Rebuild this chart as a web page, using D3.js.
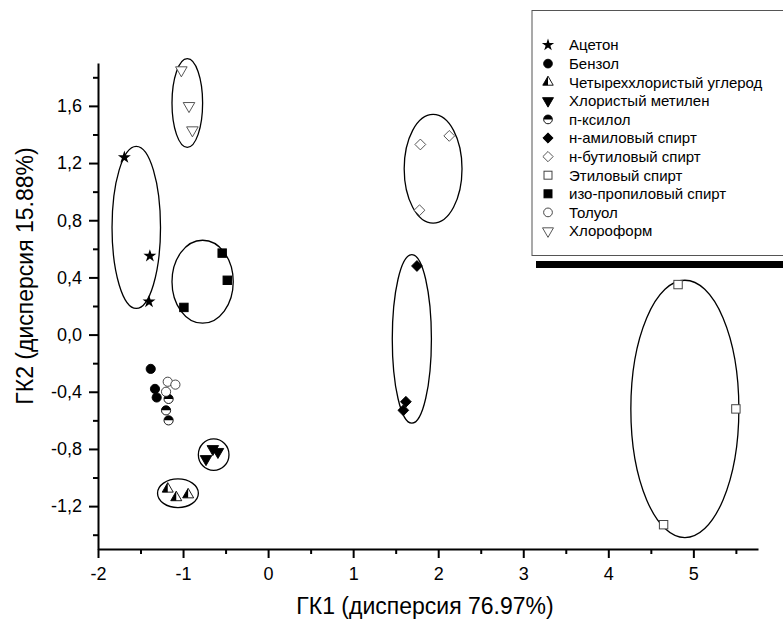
<!DOCTYPE html>
<html>
<head>
<meta charset="utf-8">
<script src="https://cdn.jsdelivr.net/npm/d3@7"></script>
<style>
  body { margin: 0; background: #fff; }
  svg { font-family: "Liberation Sans", Arial, sans-serif; }
</style>
</head>
<body>
<div id="chart"></div>
<script>
// series names as in the legend
const names = ["Ацетон", "Бензол", "Четыреххлористый углерод", "Хлористый метилен", "п-ксилол",
    "н-амиловый спирт", "н-бутиловый спирт", "Этиловый спирт", "изо-пропиловый спирт", "Толуол", "Хлороформ"]
const markers = ["star", "circle", "halfTri", "triDown", "halfCircle",
    "diamond", "diamondOpen", "squareOpen", "square", "circleOpen", "triDownOpen"]

// PC1 / PC2 scores
const acetoneX = [-1.69, -1.39, -1.40], acetoneY = [1.24, 0.55, 0.23]
const benzeneX = [-1.38, -1.33, -1.31], benzeneY = [-0.24, -0.38, -0.44]
const ccl4X = [-1.18, -1.08, -0.94], ccl4Y = [-1.08, -1.14, -1.12]
const methyleneX = [-0.65, -0.59, -0.73], methyleneY = [-0.80, -0.82, -0.87]
const xyleneX = [-1.17, -1.20, -1.17], xyleneY = [-0.45, -0.53, -0.60]
const amylX = [1.75, 1.62, 1.59], amylY = [0.48, -0.47, -0.53]
const butylX = [1.79, 2.13, 1.78], butylY = [1.33, 1.39, 0.87]
const ethylX = [4.82, 5.50, 4.65], ethylY = [0.35, -0.52, -1.33]
const isopropylX = [-0.54, -0.48, -0.99], isopropylY = [0.57, 0.38, 0.19]
const tolueneX = [-1.18, -1.09, -1.20], tolueneY = [-0.33, -0.35, -0.40]
const chloroformX = [-1.02, -0.93, -0.89], chloroformY = [1.85, 1.60, 1.43]

const seriesX = [acetoneX, benzeneX, ccl4X, methyleneX, xyleneX, amylX, butylX, ethylX, isopropylX, tolueneX, chloroformX]
const seriesY = [acetoneY, benzeneY, ccl4Y, methyleneY, xyleneY, amylY, butylY, ethylY, isopropylY, tolueneY, chloroformY]

// cluster ellipses: centre and radii in data units
const ellipseCx = [-1.55, -0.95, -0.77, -0.64, -1.06, 1.94, 1.69, 4.90]
const ellipseCy = [0.75, 1.62, 0.37, -0.84, -1.11, 1.16, -0.03, -0.52]
const ellipseRx = [0.285, 0.18, 0.36, 0.18, 0.24, 0.34, 0.23, 0.635]
const ellipseRy = [0.567, 0.31, 0.29, 0.11, 0.10, 0.38, 0.59, 0.90]

const xTicks = [-2, -1, 0, 1, 2, 3, 4, 5]
const xMinor = [-1.5, -0.5, 0.5, 1.5, 2.5, 3.5, 4.5, 5.5]
const yTicks = [-1.2, -0.8, -0.4, 0, 0.4, 0.8, 1.2, 1.6]
const yMinor = [-1.4, -1.0, -0.6, -0.2, 0.2, 0.6, 1.0, 1.4, 1.8]

const xTitle = "ГК1 (дисперсия 76.97%)"
const yTitle = "ГК2 (дисперсия 15.88%)"

const width = 783, height = 623
const margin = { top: 63, right: 25, bottom: 74, left: 98 }

const x = d3.scaleLinear().domain([-2, 5.76]).range([margin.left, width - margin.right])
const y = d3.scaleLinear().domain([-1.5, 1.9]).range([height - margin.bottom, margin.top])

const fmtY = v => d3.format(".1f")(v).replace(".", ",").replace("−", "-")
const fmtX = v => d3.format("d")(v).replace("−", "-")

const svg = d3.select("#chart").append("svg")
    .attr("width", width)
    .attr("height", height)

function marker(g, type, s) {
    const r = 4.6 * s
    if (type == "star") {
        g.append("path").attr("d", d3.symbol(d3.symbolStar, 52 * s * s)()).attr("fill", "#000")
    } else if (type == "circle" || type == "circleOpen") {
        g.append("circle").attr("r", r)
            .attr("fill", type == "circle" ? "#000" : "#fff")
            .attr("stroke", type == "circle" ? "#000" : "#333").attr("stroke-width", 0.9)
    } else if (type == "halfCircle") {
        g.append("circle").attr("r", r).attr("fill", "#fff").attr("stroke", "#000").attr("stroke-width", 0.9)
        g.append("path").attr("d", `M${-r},0 A${r},${r} 0 0 1 ${r},0 Z`).attr("fill", "#000")
    } else if (type == "square" || type == "squareOpen") {
        const a = 8.4 * s
        g.append("rect").attr("x", -a / 2).attr("y", -a / 2).attr("width", a).attr("height", a)
            .attr("fill", type == "square" ? "#000" : "#fff")
            .attr("stroke", type == "square" ? "#000" : "#444").attr("stroke-width", 1)
    } else if (type == "diamond" || type == "diamondOpen") {
        const a = 5.4 * s
        g.append("path").attr("d", `M0,${-a} L${a},0 L0,${a} L${-a},0 Z`)
            .attr("fill", type == "diamond" ? "#000" : "#fff")
            .attr("stroke", type == "diamond" ? "#000" : "#444").attr("stroke-width", 0.9)
    } else if (type == "triDown" || type == "triDownOpen") {
        g.append("path").attr("d", d3.symbol(d3.symbolTriangle, 58 * s * s)())
            .attr("transform", "rotate(180)")
            .attr("fill", type == "triDown" ? "#000" : "#fff")
            .attr("stroke", type == "triDown" ? "#000" : "#444").attr("stroke-width", 0.9)
    } else if (type == "halfTri") {
        const side = 11 * s, h = side * Math.sqrt(3) / 2
        const top = -h * 2 / 3, bot = h / 3
        g.append("path").attr("d", `M0,${top} L${side / 2},${bot} L${-side / 2},${bot} Z`)
            .attr("fill", "#fff").attr("stroke", "#000").attr("stroke-width", 0.9)
        g.append("path").attr("d", `M0,${top} L0,${bot} L${-side / 2},${bot} Z`).attr("fill", "#000")
    }
}

// axes
const xAxis = g => g
    .attr("transform", `translate(0,${y.range()[0]})`)
    .call(d3.axisBottom(x).tickValues(xTicks).tickFormat(fmtX).tickSize(9).tickPadding(9).tickSizeOuter(0))
    .call(g => g.select(".domain").attr("stroke-width", 2))
    .call(g => g.selectAll(".tick line").attr("stroke-width", 2))
    .call(g => g.selectAll("text").attr("font-size", 18).attr("fill", "#000"))

const xMinorAxis = g => g
    .attr("transform", `translate(0,${y.range()[0]})`)
    .call(d3.axisBottom(x).tickValues(xMinor).tickFormat("").tickSize(5).tickSizeOuter(0))
    .call(g => g.select(".domain").remove())
    .call(g => g.selectAll(".tick line").attr("stroke-width", 2))

const yAxis = g => g
    .attr("transform", `translate(${x.range()[0]},0)`)
    .call(d3.axisLeft(y).tickValues(yTicks).tickFormat(fmtY).tickSize(9).tickPadding(7).tickSizeOuter(0))
    .call(g => g.select(".domain").attr("stroke-width", 2))
    .call(g => g.selectAll(".tick line").attr("stroke-width", 2))
    .call(g => g.selectAll("text").attr("font-size", 18).attr("fill", "#000"))

const yMinorAxis = g => g
    .attr("transform", `translate(${x.range()[0]},0)`)
    .call(d3.axisLeft(y).tickValues(yMinor).tickFormat("").tickSize(5).tickSizeOuter(0))
    .call(g => g.select(".domain").remove())
    .call(g => g.selectAll(".tick line").attr("stroke-width", 2))

svg.append("g").call(xMinorAxis)
svg.append("g").call(yMinorAxis)
svg.append("g").call(xAxis)
svg.append("g").call(yAxis)

// axis titles
svg.append("text")
    .attr("x", 425)
    .attr("y", 614)
    .attr("text-anchor", "middle")
    .attr("font-size", 23)
    .text(xTitle)

svg.append("text")
    .attr("transform", `translate(33,276) rotate(-90)`)
    .attr("text-anchor", "middle")
    .attr("font-size", 23)
    .text(yTitle)

// ellipses
svg.append("g")
    .selectAll("ellipse")
    .data(d3.range(ellipseCx.length))
    .join("ellipse")
    .attr("cx", i => x(ellipseCx[i]))
    .attr("cy", i => y(ellipseCy[i]))
    .attr("rx", i => x(ellipseCx[i] + ellipseRx[i]) - x(ellipseCx[i]))
    .attr("ry", i => y(ellipseCy[i] - ellipseRy[i]) - y(ellipseCy[i]))
    .attr("fill", "none")
    .attr("stroke", "#000")
    .attr("stroke-width", 1.3)

// points
const pts = svg.append("g")
seriesX.forEach((xs, k) => {
    xs.forEach((v, i) => {
        const g = pts.append("g").attr("transform", `translate(${x(v)},${y(seriesY[k][i])})`)
        marker(g, markers[k], 1)
    })
})

// legend
const lg = svg.append("g")
lg.append("rect").attr("x", 536).attr("y", 261).attr("width", 260).attr("height", 7).attr("fill", "#000")
lg.append("rect").attr("x", 532).attr("y", 10.5).attr("width", 260).attr("height", 245)
    .attr("fill", "#fff").attr("stroke", "#555").attr("stroke-width", 1)

names.forEach((n, i) => {
    const yy = 45 + i * 18.6
    marker(lg.append("g").attr("transform", `translate(548,${yy})`), markers[i], 0.95)
    lg.append("text")
        .attr("x", 569)
        .attr("y", yy)
        .attr("dy", "0.36em")
        .attr("font-size", 15)
        .text(n)
})
</script>
</body>
</html>
